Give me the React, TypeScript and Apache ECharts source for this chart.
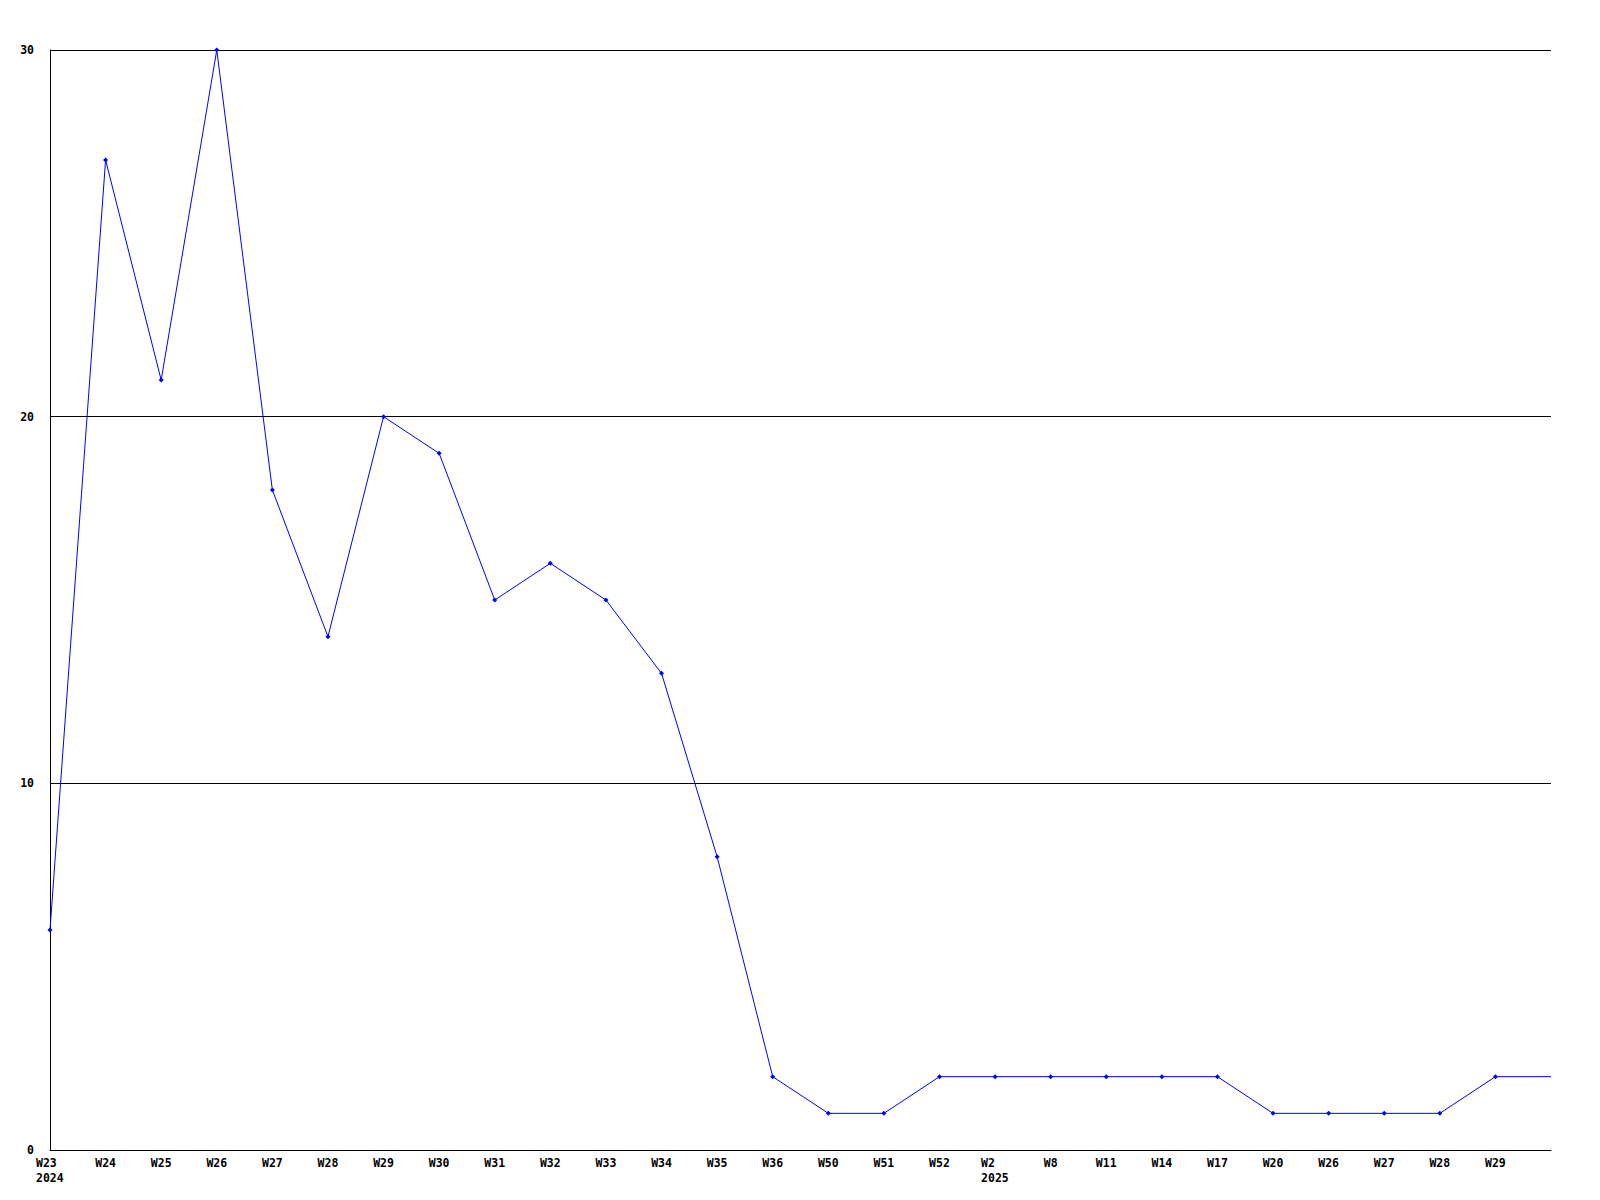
import React, { useEffect, useRef } from "react";
import * as echarts from "echarts";

const categories = ["W23", "W24", "W25", "W26", "W27", "W28", "W29", "W30", "W31", "W32", "W33", "W34", "W35", "W36", "W50", "W51", "W52", "W2", "W8", "W11", "W14", "W17", "W20", "W26", "W27", "W28", "W29", ""];
const values = [6, 27, 21, 30, 18, 14, 20, 19, 15, 16, 15, 13, 8, 2, 1, 1, 2, 2, 2, 2, 2, 2, 1, 1, 1, 1, 2, 2];
const yearLabels: Record<number, string> = { 0: "2024", 17: "2025" };
const yTicks = [0, 10, 20, 30];

export default function App() {
  const ref = useRef<HTMLDivElement>(null);
  useEffect(() => {
    if (!ref.current) return;
    const chart = echarts.init(ref.current, null, { renderer: "svg" });
    const font = { fontFamily: "DejaVu Sans Mono", fontWeight: "bold" as const, fontSize: 11.5, color: "#000" };
    const seriesData = values.map((v, i) => (categories[i] === "" ? { value: v, symbol: "none" } : v));
    chart.setOption({
      animation: false,
      backgroundColor: "#fff",
      grid: { left: 50, top: 50, right: 49, bottom: 50, containLabel: false },
      xAxis: {
        type: "category",
        data: categories,
        boundaryGap: false,
        axisLine: { lineStyle: { color: "#000", width: 1 } },
        axisTick: { show: false },
        splitLine: { show: false },
        axisLabel: {
          ...font,
          interval: 0,
          margin: 5,
          lineHeight: 15,
          formatter: (v: string, i: number) => (yearLabels[i] ? `{l|${v}}\n{l|${yearLabels[i]}}` : v),
          rich: { l: { ...font, width: 28, align: "left", lineHeight: 15, padding: [0, 0, 0, 0] } },
        },
      },
      yAxis: {
        type: "value",
        min: yTicks[0],
        max: yTicks[yTicks.length - 1],
        interval: 10,
        axisLine: { show: true, lineStyle: { color: "#000", width: 1 } },
        axisTick: { show: false },
        splitLine: { show: true, lineStyle: { color: "#000", width: 1 } },
        axisLabel: { ...font, margin: 16 },
      },
      series: [
        {
          type: "line",
          data: seriesData,
          symbol: "diamond",
          symbolSize: 5,
          showAllSymbol: true,
          lineStyle: { color: "#0000ff", width: 1 },
          itemStyle: { color: "#0000ff" },
        },
      ],
    });
    return () => chart.dispose();
  }, []);
  return <div ref={ref} style={{ position: "fixed", left: 0, top: 0, width: 1600, height: 1200 }} />;
}
